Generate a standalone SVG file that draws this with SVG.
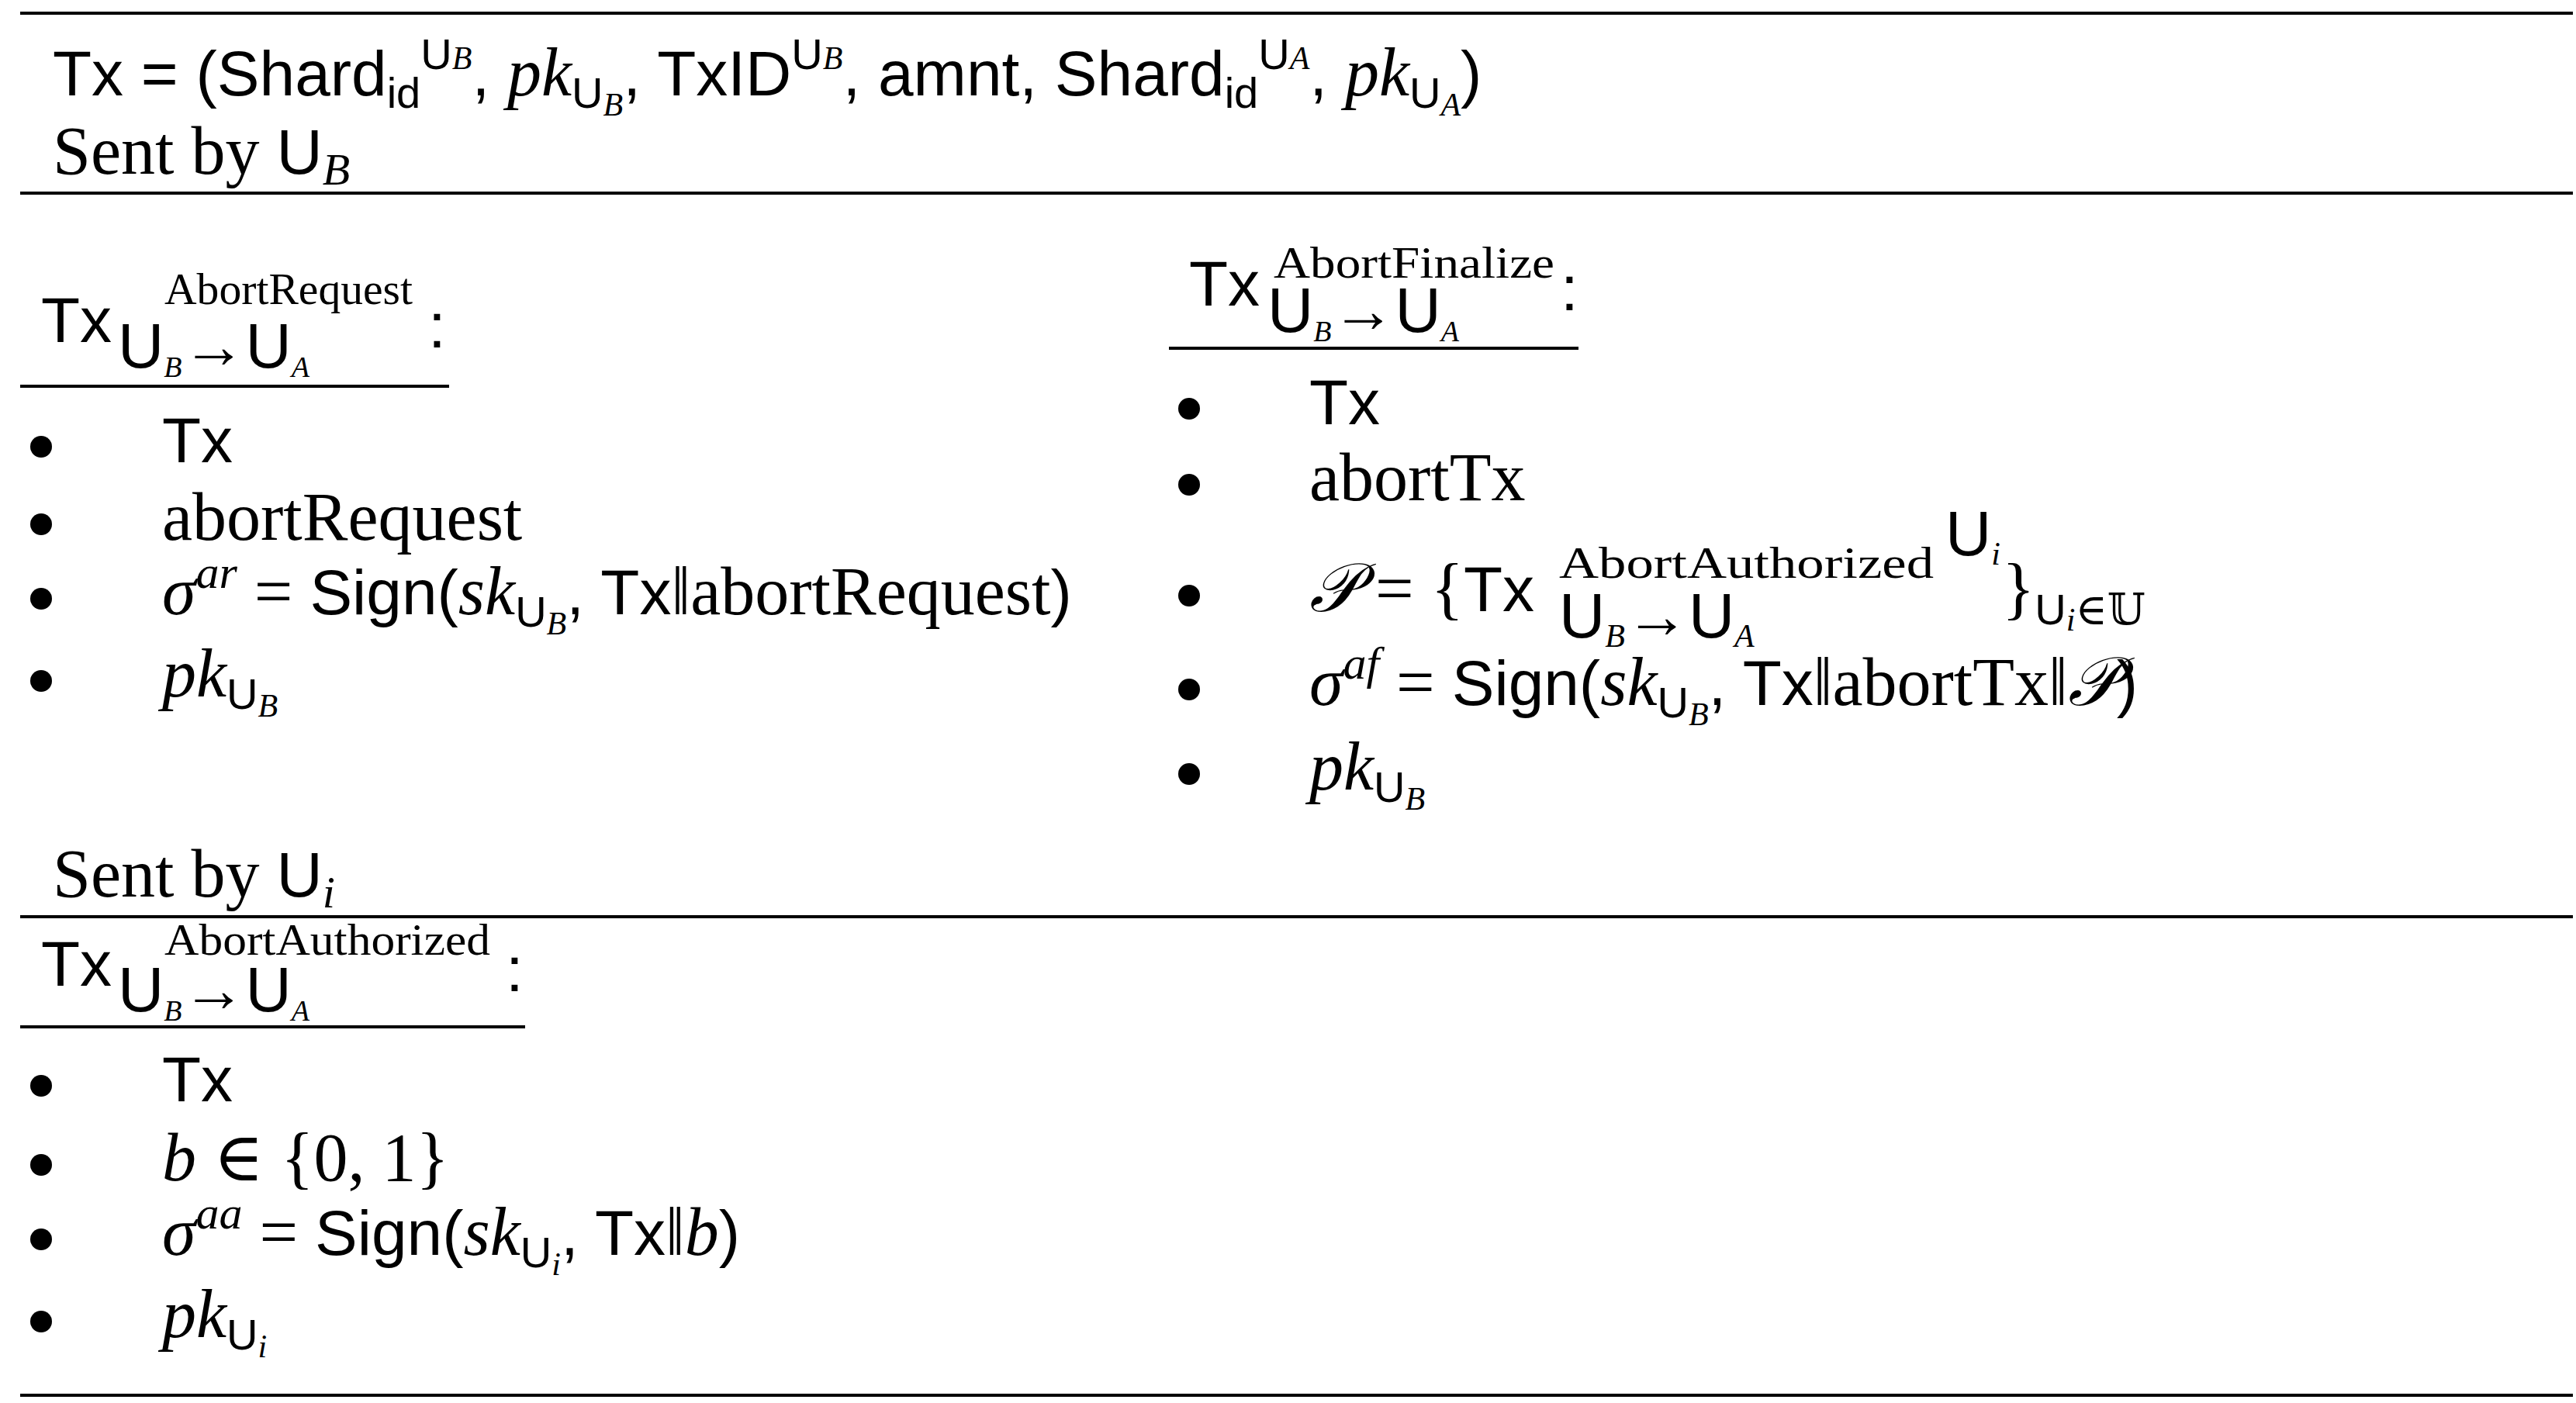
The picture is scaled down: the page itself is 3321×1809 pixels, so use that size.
<svg xmlns="http://www.w3.org/2000/svg" width="3321" height="1809" viewBox="0 0 3321 1809">
<style>
.s{font-family:"Liberation Sans","DejaVu Sans",sans-serif;font-size:82px;fill:#000}
.r{font-family:"Liberation Serif","DejaVu Serif",serif;font-size:88px;fill:#000}
.i{font-family:"Liberation Serif","DejaVu Serif",serif;font-style:italic}
.sf{font-family:"Liberation Sans","DejaVu Sans",sans-serif;font-style:normal}
.rf{font-family:"Liberation Serif","DejaVu Serif",serif;font-style:normal}
.sup{font-family:"Liberation Serif","DejaVu Serif",serif;font-size:58px;fill:#000}
.rule{stroke:#000;stroke-width:4}
.bul{fill:#000}
</style>
<rect width="3321" height="1809" fill="#fff"/>
<g id="rules">
<line class="rule" x1="26" y1="17" x2="3317" y2="17"/>
<line class="rule" x1="26" y1="249" x2="3317" y2="249"/>
<line class="rule" x1="26" y1="1182" x2="3317" y2="1182"/>
<line class="rule" x1="26" y1="1799" x2="3317" y2="1799"/>
<line class="rule" x1="26" y1="498" x2="579" y2="498"/>
<line class="rule" x1="1507" y1="449" x2="2035" y2="449"/>
<line class="rule" x1="26" y1="1324" x2="677" y2="1324"/>
</g>
<g id="tx-def">
<text class="s" x="68" y="123">Tx = (Shard<tspan font-size="56" dy="16">id</tspan><tspan font-size="56" dy="-50">U</tspan><tspan class="i" font-size="42">B</tspan><tspan dy="34">, </tspan><tspan class="i" font-size="88">pk</tspan><tspan font-size="56" dy="16">U</tspan><tspan class="i" font-size="42" dy="10">B</tspan><tspan dy="-26">, TxID</tspan><tspan font-size="56" dy="-34">U</tspan><tspan class="i" font-size="42">B</tspan><tspan dy="34">, amnt, Shard</tspan><tspan font-size="56" dy="16">id</tspan><tspan font-size="56" dy="-50">U</tspan><tspan class="i" font-size="42">A</tspan><tspan dy="34">, </tspan><tspan class="i" font-size="88">pk</tspan><tspan font-size="56" dy="16">U</tspan><tspan class="i" font-size="42" dy="10">A</tspan><tspan dy="-26">)</tspan></text>
<text class="r" x="68" y="224">Sent by <tspan class="sf" font-size="82">U</tspan><tspan class="i" font-size="58" dy="14">B</tspan></text>
</g>
<g id="abort-request">
<text class="s" x="53" y="441">Tx</text>
<text class="sup" x="212" y="392" textLength="320" lengthAdjust="spacingAndGlyphs">AbortRequest</text>
<text class="s" x="152" y="474" font-size="50">U<tspan class="i" font-size="38" dy="12">B</tspan><tspan class="rf" dy="-12">→</tspan>U<tspan class="i" font-size="38" dy="12">A</tspan></text>
<text class="s" x="552" y="448">:</text>
<circle class="bul" cx="53" cy="576" r="14"/>
<circle class="bul" cx="53" cy="676" r="14"/>
<circle class="bul" cx="53" cy="772" r="14"/>
<circle class="bul" cx="53" cy="878" r="14"/>
<text class="s" x="209" y="596">Tx</text>
<text class="r" x="209" y="696">abortRequest</text>
<text class="r" x="209" y="792"><tspan class="i">σ</tspan><tspan class="i" font-size="60" dy="-34">ar</tspan><tspan dy="34"> = </tspan><tspan class="sf" font-size="82">Sign(</tspan><tspan class="i">sk</tspan><tspan class="sf" font-size="56" dy="16">U</tspan><tspan class="i" font-size="42" dy="10">B</tspan><tspan class="sf" font-size="82" dy="-26">, Tx</tspan>‖abortRequest<tspan class="sf" font-size="82">)</tspan></text>
<text class="r" x="209" y="898"><tspan class="i">pk</tspan><tspan class="sf" font-size="56" dy="16">U</tspan><tspan class="i" font-size="42" dy="10">B</tspan></text>
</g>
<g id="abort-finalize">
<text class="s" x="1533" y="394">Tx</text>
<text class="sup" x="1642" y="358" textLength="362" lengthAdjust="spacingAndGlyphs">AbortFinalize</text>
<text class="s" x="1634" y="428" font-size="50">U<tspan class="i" font-size="38" dy="12">B</tspan><tspan class="rf" dy="-12">→</tspan>U<tspan class="i" font-size="38" dy="12">A</tspan></text>
<text class="s" x="2012" y="400">:</text>
<circle class="bul" cx="1533" cy="527" r="14"/>
<circle class="bul" cx="1533" cy="625" r="14"/>
<circle class="bul" cx="1533" cy="768" r="14"/>
<circle class="bul" cx="1533" cy="889" r="14"/>
<circle class="bul" cx="1533" cy="998" r="14"/>
<text class="s" x="1688" y="547">Tx</text>
<text class="r" x="1688" y="645">abortTx</text>
<text class="r" x="1688" y="788"><tspan class="i">𝒫</tspan> = {<tspan class="sf" font-size="82">Tx</tspan></text>
<text class="sup" x="2010" y="745" textLength="483" lengthAdjust="spacingAndGlyphs">AbortAuthorized</text>
<text class="s" x="2508" y="716" font-size="56">U<tspan class="i" font-size="42" dy="12">i</tspan></text>
<text class="s" x="2010" y="822" font-size="56">U<tspan class="i" font-size="42" dy="12">B</tspan><tspan class="rf" dy="-12">→</tspan>U<tspan class="i" font-size="42" dy="12">A</tspan></text>
<text class="r" x="2581" y="788">}<tspan class="sf" font-size="56" dy="17">U</tspan><tspan class="i" font-size="42" dy="8">i</tspan><tspan class="rf" font-size="56" dy="-8">∈𝕌</tspan></text>
<text class="r" x="1688" y="909"><tspan class="i">σ</tspan><tspan class="i" font-size="60" dy="-34">af</tspan><tspan dy="34"> = </tspan><tspan class="sf" font-size="82">Sign(</tspan><tspan class="i">sk</tspan><tspan class="sf" font-size="56" dy="16">U</tspan><tspan class="i" font-size="42" dy="10">B</tspan><tspan class="sf" font-size="82" dy="-26">, Tx</tspan>‖abortTx‖<tspan class="i">𝒫</tspan><tspan class="sf" font-size="82">)</tspan></text>
<text class="r" x="1688" y="1018"><tspan class="i">pk</tspan><tspan class="sf" font-size="56" dy="16">U</tspan><tspan class="i" font-size="42" dy="10">B</tspan></text>
</g>
<g id="abort-authorized">
<text class="r" x="68" y="1156">Sent by <tspan class="sf" font-size="82">U</tspan><tspan class="i" font-size="58" dy="14">i</tspan></text>
<text class="s" x="53" y="1271">Tx</text>
<text class="sup" x="212" y="1231" textLength="420" lengthAdjust="spacingAndGlyphs">AbortAuthorized</text>
<text class="s" x="152" y="1304" font-size="50">U<tspan class="i" font-size="38" dy="12">B</tspan><tspan class="rf" dy="-12">→</tspan>U<tspan class="i" font-size="38" dy="12">A</tspan></text>
<text class="s" x="652" y="1278">:</text>
<circle class="bul" cx="53" cy="1400" r="14"/>
<circle class="bul" cx="53" cy="1502" r="14"/>
<circle class="bul" cx="53" cy="1598" r="14"/>
<circle class="bul" cx="53" cy="1704" r="14"/>
<text class="s" x="209" y="1420">Tx</text>
<text class="r" x="209" y="1522"><tspan class="i">b</tspan> ∈ {0, 1}</text>
<text class="r" x="209" y="1618"><tspan class="i">σ</tspan><tspan class="i" font-size="60" dy="-34">aa</tspan><tspan dy="34"> = </tspan><tspan class="sf" font-size="82">Sign(</tspan><tspan class="i">sk</tspan><tspan class="sf" font-size="56" dy="16">U</tspan><tspan class="i" font-size="42" dy="10">i</tspan><tspan class="sf" font-size="82" dy="-26">, Tx</tspan>‖<tspan class="i">b</tspan><tspan class="sf" font-size="82">)</tspan></text>
<text class="r" x="209" y="1724"><tspan class="i">pk</tspan><tspan class="sf" font-size="56" dy="16">U</tspan><tspan class="i" font-size="42" dy="10">i</tspan></text>
</g>
</svg>
